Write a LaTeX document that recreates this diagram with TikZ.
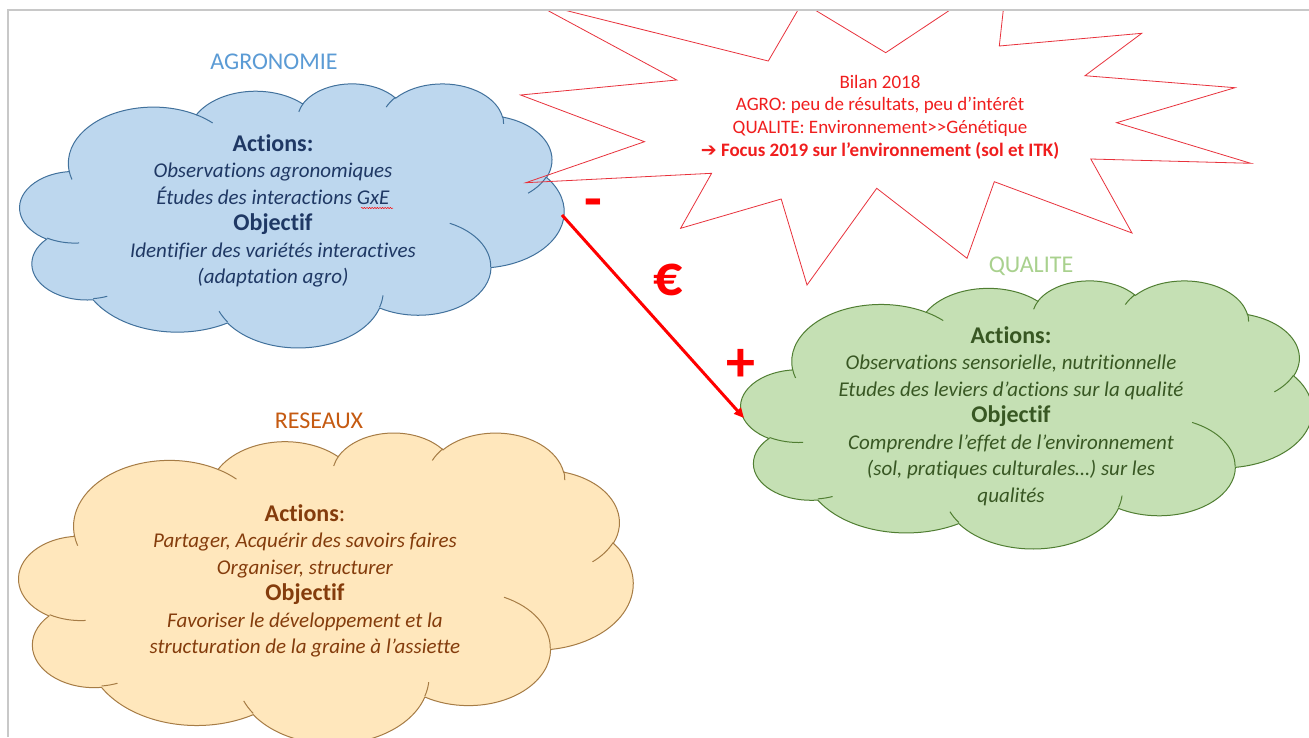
\documentclass[tikz,border=0pt]{standalone}
\usepackage{fontspec}
\setmainfont[Ligatures={NoCommon}]{Carlito}
\newfontfamily\dejavu{DejaVu Sans}
\usetikzlibrary{arrows.meta,decorations.pathmorphing}

\definecolor{agrofill}{HTML}{BDD7EE}
\definecolor{agroline}{HTML}{41719C}
\definecolor{agrotext}{HTML}{1F3864}
\definecolor{agrohead}{HTML}{5B9BD5}
\definecolor{qualfill}{HTML}{C5E0B4}
\definecolor{qualline}{HTML}{507E32}
\definecolor{qualtext}{HTML}{385723}
\definecolor{qualhead}{HTML}{A9D18E}
\definecolor{resfill}{HTML}{FFE7BC}
\definecolor{resline}{HTML}{A67C45}
\definecolor{restext}{HTML}{843C0C}
\definecolor{reshead}{HTML}{C55A11}
\definecolor{burst}{HTML}{E8323C}
\definecolor{bursttext}{HTML}{F01E1E}
\definecolor{framegray}{HTML}{C8C8C8}

% OOXML arcTo: visual angles -> parametric angles
\def\ooarccalc#1#2#3#4{%
  \pgfmathsetmacro\ooda{atan2((#1)*sin(#3),(#2)*cos(#3))-(#3)}%
  \pgfmathsetmacro\ooS{(#3)+(\ooda)-360*round((\ooda)/360)}%
  \pgfmathsetmacro\oodb{atan2((#1)*sin((#3)+(#4)),(#2)*cos((#3)+(#4)))-((#3)+(#4))}%
  \pgfmathsetmacro\ooE{(#3)+(#4)+(\oodb)-360*round((\oodb)/360)}%
}
\newcommand\ooarc[4]{\pgfextra{\ooarccalc{#1}{#2}{#3}{#4}} arc[start angle=\ooS, end angle=\ooE, x radius=#1, y radius=#2]}

\newcommand\cloudpath{%
 (3.9,14.37) \ooarc{6.753}{9.19}{-190.4875}{123.7805}
 \ooarc{5.333}{7.267}{-144.1024}{89.9452}
 \ooarc{4.365}{5.945}{-145.8079}{99.7230}
 \ooarc{4.857}{6.595}{-130.9861}{117.2417}
 \ooarc{5.333}{7.273}{-78.7089}{109.0269}
 \ooarc{6.775}{9.22}{-46.2673}{130.269}
 \ooarc{5.785}{7.867}{0.625}{114.0333}
 \ooarc{6.752}{9.215}{22.4516}{115.1726}
 \ooarc{7.72}{10.543}{66.2426}{75.711}
 \ooarc{4.36}{5.918}{-274.9421}{146.7356}
 \ooarc{4.345}{5.945}{-246.8285}{152.5189}
 -- cycle}

\newcommand\cloudinner{%
 (4.693,26.177) \ooarc{4.345}{5.945}{86.742}{26.4295}
 (6.928,34.899) \ooarc{4.36}{5.918}{73.6105}{11.4475}
 (16.478,39.09) \ooarc{6.752}{9.215}{137.6242}{14.0811}
 (28.827,34.751) \ooarc{6.752}{9.215}{6.4533}{15.9984}
 (34.129,22.954) \ooarc{5.785}{7.867}{-70.2924}{70.9174}
 (41.798,15.354) \ooarc{5.333}{7.273}{30.318}{27.7515}
 (38.324,5.426) \ooarc{4.857}{6.595}{-13.7443}{14.8589}
 (29.078,3.952) \ooarc{4.857}{6.595}{-149.1815}{18.1954}
 (22.141,4.72) \ooarc{4.365}{5.945}{-163.4943}{17.6864}
 (14,5.192) \ooarc{6.753}{9.19}{-66.707}{12.3194}
 (4.127,15.789) \ooarc{6.753}{9.19}{157.6544}{11.8582}}

\newcommand\drawcloud[6]{%
  \begin{scope}[shift={(#1,#2)}, x={({#3/43.2*1pt},0pt)}, y={(0pt,{-#4/43.2*1pt})}]
    \draw[fill=#5, draw=#6, line width=1pt] \cloudpath;
    \draw[draw=#6, line width=1pt] \cloudinner;
  \end{scope}}

\newcommand\hd[1]{{\fontsize{24}{26.5}\selectfont\bfseries #1}}

\tikzset{
  head/.style={inner sep=0pt, font=\fontsize{24}{28}\selectfont},
  cloudtxt/.style={inner sep=0pt, align=center, font=\fontsize{21}{26.5}\selectfont},
  bursttxt/.style={inner sep=0pt, align=center, font=\fontsize{19}{22.7}\selectfont, text=bursttext},
  sym/.style={inner sep=0pt, font=\fontsize{58}{62}\selectfont\bfseries, text=red},
  burstline/.style={draw=burst, line width=0.8pt},
  flow/.style={draw=red, line width=3pt, -{Triangle[length=10pt,width=9pt]}},
  frameline/.style={draw=framegray, line width=1.2pt},
  squig/.style={draw=red, line width=0.5pt, decorate, decoration={snake, amplitude=0.6pt, segment length=2.6pt}},
}

\begin{document}
\begin{tikzpicture}[x=1pt, y=-1pt]
\useasboundingbox[fill=white] (0,0) rectangle (1309,737);

\begin{scope}
  \clip (8,10) rectangle (1309,737);
  % clouds
  \drawcloud{20}{83}{544}{264}{agrofill}{agroline}
  \drawcloud{741}{280}{571}{268}{qualfill}{qualline}
  \drawcloud{19}{432}{614}{311}{resfill}{resline}
  % explosion
  \draw[burstline] (532,2) -- (768.3,61) -- (802.4,2.4) -- (885.7,52.7) -- (1007.5,-28.2) -- (999.3,46)
    -- (1141.7,33.3) -- (1085,75.7) -- (1235,87.7) -- (1116.6,122.7) -- (1250.8,163.3) -- (1090.8,159)
    -- (1132,233) -- (994.3,181.7) -- (967,258.3) -- (876.7,188.3) -- (807,285) -- (781.2,199)
    -- (680.6,228.3) -- (711.6,173.3) -- (525.8,182.7) -- (644.5,141.7) -- (520.6,95) -- (676.7,80) -- cycle;
\end{scope}

% frame of the slide
\draw[frameline] (8,737) -- (8,10) -- (1309,10);

% headings
\node[head, text=agrohead] (agrohead) at (274,62) {AGRONOMIE};
\node[head, text=qualhead] (qualhead) at (1031,266) {QUALITE};
\node[head, text=reshead] (reshead) at (319,421) {RESEAUX};

% cloud texts
\node[cloudtxt, text=agrotext] (agrotxt) at (273,211) {%
  \hd{Actions:}\\
  \textit{Observations agronomiques}\\
  \textit{Études des interactions GxE}\\
  \hd{Objectif}\\
  \textit{Identifier des variétés interactives}\\
  \textit{(adaptation agro)}};
\draw[squig] (361,208) -- (393,208);

\node[cloudtxt, text=qualtext] (qualtxt) at (1011,416) {%
  \hd{Actions:}\\
  \textit{Observations sensorielle, nutritionnelle}\\
  \textit{Etudes des leviers d’actions sur la qualité}\\
  \hd{Objectif}\\
  \textit{Comprendre l’effet de l’environnement}\\
  \textit{(sol, pratiques culturales…) sur les}\\
  \textit{qualités}};

\node[cloudtxt, text=restext] (restxt) at (305,581) {%
  \hd{Actions}{\fontsize{24}{26.5}\selectfont :}\\
  \textit{Partager, Acquérir des savoirs faires}\\
  \textit{Organiser, structurer}\\
  \hd{Objectif}\\
  \textit{Favoriser le développement et la}\\
  \textit{structuration de la graine à l’assiette}};

% explosion text
\node[bursttxt] (bilan) at (880,117) {%
  Bilan 2018\\
  AGRO: peu de résultats, peu d’intérêt\\
  QUALITE: Environnement>\kern0pt>Génétique\\
  {\bfseries{\dejavu ➔} Focus 2019 sur l’environnement (sol et ITK)}};

% money flow
\coordinate (agroE) at (562,215);
\coordinate (qualW) at (744,418);
\draw[flow] (agroE) -- (qualW);
\node[sym] (minus) at (593,209) {-};
\node[sym] (euro) at (668,280) {€};
\node[sym] (plus) at (741,365) {+};
\end{tikzpicture}
\end{document}
